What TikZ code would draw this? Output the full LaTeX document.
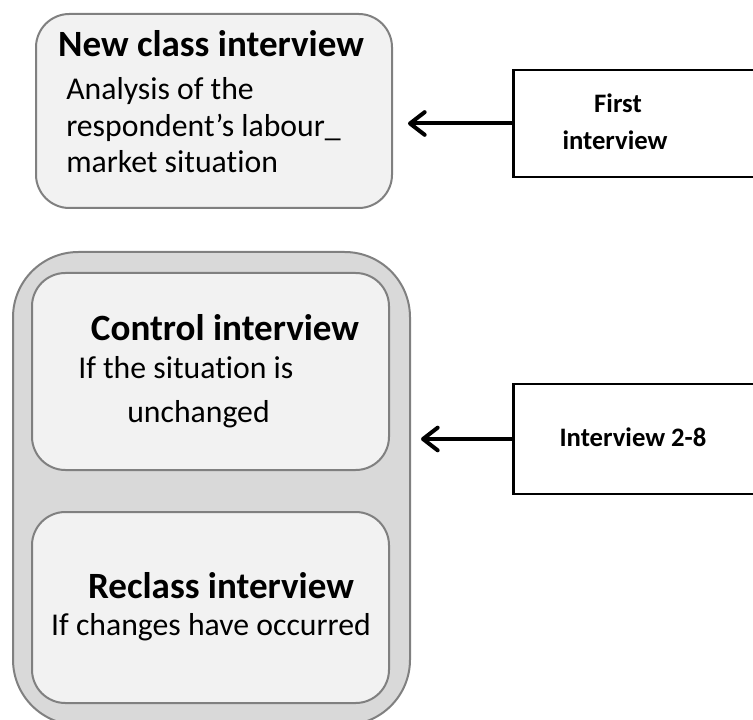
\documentclass[tikz,border=0pt]{standalone}
\usepackage{fontspec}
\setmainfont{Carlito}[Ligatures=NoCommon]
\usetikzlibrary{arrows.meta}

\definecolor{boxgray}{HTML}{808080}
\definecolor{boxfill}{HTML}{F2F2F2}
\definecolor{groupfill}{HTML}{D9D9D9}

\begin{document}
\begin{tikzpicture}[x=0.75pt,y=-0.75pt,
    roundbox/.style={draw=boxgray,line width=1.5pt,fill=boxfill,inner sep=0pt,rounded corners=25pt},
    groupbox/.style={roundbox,fill=groupfill,rounded corners=49pt},
    sidebox/.style={draw=black,line width=2pt,fill=white,inner sep=0pt,minimum width=190pt,anchor=west},
    heading/.style={font=\bfseries\fontsize{27.8}{32}\selectfont,inner sep=0pt,anchor=base},
    bodytext/.style={font=\fontsize{23.8}{28}\selectfont,inner sep=0pt,anchor=base west},
    sidetext/.style={font=\bfseries\fontsize{20}{24}\selectfont,inner sep=0pt,anchor=base},
    arr/.style={-{Straight Barb[length=11pt,width=17pt,line width=3pt,round]},line width=3pt}]
    \clip (0,0) rectangle (753,720);

    % left column
    \node[roundbox,minimum width=267pt,minimum height=145.5pt] (newclass) at (214,111) {};
    \node[groupbox,minimum width=297.75pt,minimum height=354.75pt] (group) at (211.5,488.5) {};
    \node[roundbox,minimum width=267.75pt,minimum height=147.75pt] (control) at (210.5,371.5) {};
    \node[roundbox,minimum width=267.75pt,minimum height=143.25pt] (reclass) at (210.5,607.5) {};

    \node[heading] (newclasshead) at (211,57) {New class interview};
    \foreach \txt [count=\i] in {Analysis of the,respondent’s labour\_,market situation}
    {
      \node[bodytext] (newclassline\i) at (66,{100+36.5*(\i-1)}) {\txt};
    }

    \node[heading] (controlhead) at (225,340) {Control interview};
    \node[bodytext] (controlline1) at (78,378) {If the situation is};
    \node[bodytext] (controlline2) at (127,422) {unchanged};

    \node[heading] (reclasshead) at (221,598) {Reclass interview};
    \node[bodytext,anchor=base] (reclassline) at (211,635) {If changes have occurred};

    % right column
    \node[sidebox,minimum height=80.25pt] (first) at (512,123.5) {};
    \node[sidebox,minimum height=82.5pt] (later) at (512,439) {};
    \node[sidetext] (firstline1) at (618,113) {First};
    \node[sidetext] (firstline2) at (615,150) {interview};
    \node[sidetext] (laterline) at (633,446) {Interview 2-8};

    \coordinate (firsttip) at (408,123.5);
    \coordinate (latertip) at (421,439);
    \draw[arr] (first.west) -- (firsttip);
    \draw[arr] (later.west) -- (latertip);
\end{tikzpicture}
\end{document}
